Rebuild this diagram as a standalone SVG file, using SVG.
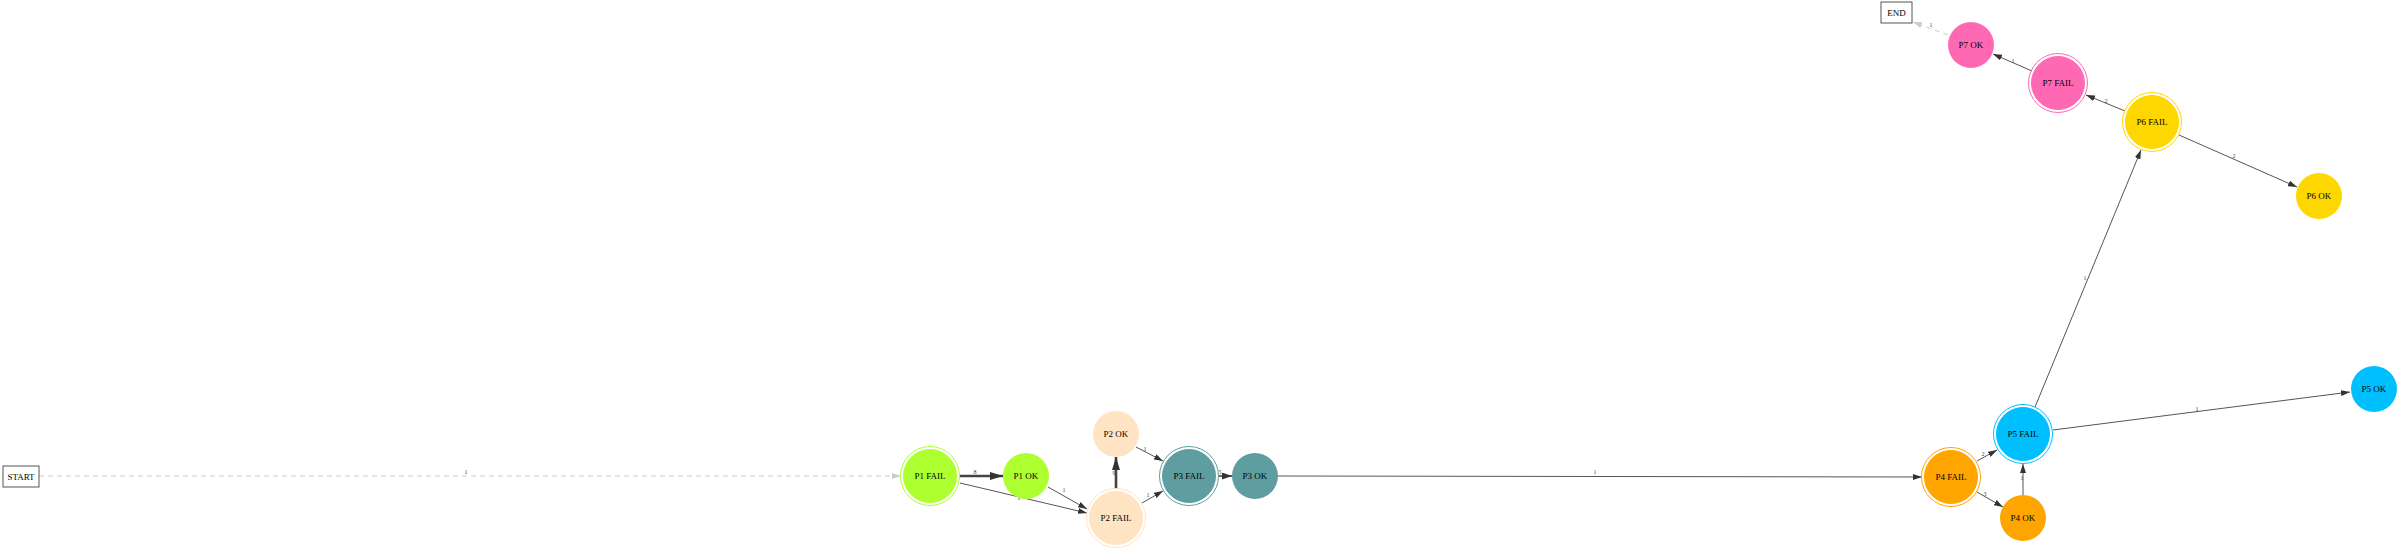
<svg xmlns="http://www.w3.org/2000/svg" width="2400" height="551" viewBox="0 0 2400 551">
<style>
.lbl{font-family:"Liberation Serif","Times New Roman",serif;font-size:9px;fill:#000;text-anchor:middle;dominant-baseline:central}
.el{font-family:"Liberation Serif","Times New Roman",serif;font-size:6px;fill:#444;text-anchor:middle}
.e{stroke:#555;stroke-width:1;fill:none;marker-end:url(#arr)}
.ek{stroke:#444;stroke-width:2.6;fill:none;marker-end:url(#arrk)}
.em{stroke:#444;stroke-width:1.6;fill:none;marker-end:url(#arrm)}
.ed{stroke:#ccc;stroke-width:1;fill:none;stroke-dasharray:5,4;marker-end:url(#arrd)}
.box{fill:#fff;stroke:#555;stroke-width:1}
</style>
<defs>
<marker id="arr" markerUnits="userSpaceOnUse" markerWidth="9" markerHeight="6" refX="9" refY="3" orient="auto"><path d="M0,0 L9,3 L0,6 z" fill="#333"/></marker>
<marker id="arrk" markerUnits="userSpaceOnUse" markerWidth="13" markerHeight="8" refX="13" refY="4" orient="auto"><path d="M0,0 L13,4 L0,8 z" fill="#333"/></marker>
<marker id="arrm" markerUnits="userSpaceOnUse" markerWidth="10" markerHeight="7" refX="10" refY="3.5" orient="auto"><path d="M0,0 L10,3.5 L0,7 z" fill="#333"/></marker>
<marker id="arrd" markerUnits="userSpaceOnUse" markerWidth="9" markerHeight="6" refX="9" refY="3" orient="auto"><path d="M0,0 L9,3 L0,6 z" fill="#ccc"/></marker>
</defs>
<rect width="2400" height="551" fill="#fff"/>
<g id="connectors">
<line class="ed" x1="39" y1="476" x2="901" y2="476"/><text class="el" x="466" y="474">1</text>
<line class="ek" x1="959" y1="476" x2="1003" y2="476"/><text class="el" x="975" y="474">8</text>
<line class="e" x1="960" y1="483" x2="1087" y2="513"/><text class="el" x="1019" y="500">1</text>
<line class="e" x1="1048" y1="487" x2="1087" y2="509"/><text class="el" x="1064" y="492">1</text>
<line class="ek" x1="1116" y1="489" x2="1116" y2="457"/><text class="el" x="1114" y="475">9</text>
<line class="e" x1="1136" y1="447" x2="1163" y2="461"/><text class="el" x="1145" y="451">1</text>
<line class="e" x1="1142" y1="503" x2="1163" y2="491"/><text class="el" x="1148" y="497">1</text>
<line class="em" x1="1218" y1="476" x2="1232" y2="476"/><text class="el" x="1220" y="474">5</text>
<line class="e" x1="1278" y1="476" x2="1922" y2="477"/><text class="el" x="1595" y="474">1</text>
<line class="e" x1="1977" y1="461" x2="1997" y2="450"/><text class="el" x="1983" y="456">2</text>
<line class="e" x1="1977" y1="492" x2="2003" y2="507"/><text class="el" x="1985" y="496">3</text>
<line class="e" x1="2023" y1="495" x2="2023" y2="464"/><text class="el" x="2022" y="480">1</text>
<line class="e" x1="2053" y1="430" x2="2350" y2="392"/><text class="el" x="2197" y="411">1</text>
<line class="e" x1="2035" y1="407" x2="2141" y2="150"/><text class="el" x="2085" y="280">1</text>
<line class="e" x1="2179" y1="135" x2="2297" y2="187"/><text class="el" x="2234" y="158">2</text>
<line class="e" x1="2125" y1="111" x2="2086" y2="95"/><text class="el" x="2106" y="103">2</text>
<line class="e" x1="2032" y1="71" x2="1993" y2="54"/><text class="el" x="2013" y="63">1</text>
<line class="ed" x1="1948" y1="35" x2="1913" y2="22"/><text class="el" x="1931" y="27">1</text>
</g>
<g id="START"><rect class="box" x="3" y="466" width="36" height="21"/><text class="lbl" x="21" y="476.5">START</text></g>
<g id="END"><rect class="box" x="1881" y="2" width="31" height="21"/><text class="lbl" x="1896.5" y="12.5">END</text></g>
<g id="P1_FAIL"><circle cx="930" cy="476" r="29.5" fill="none" stroke="#ADFF2F"/><circle cx="930" cy="476" r="26.5" fill="#ADFF2F" stroke="#ADFF2F"/><text class="lbl" x="930" y="476">P1 FAIL</text></g>
<g id="P1_OK"><circle cx="1026" cy="476" r="23" fill="#ADFF2F"/><text class="lbl" x="1026" y="476">P1 OK</text></g>
<g id="P2_OK"><circle cx="1116" cy="434" r="23" fill="#FFE4C4"/><text class="lbl" x="1116" y="434">P2 OK</text></g>
<g id="P2_FAIL"><circle cx="1116" cy="518" r="29.5" fill="none" stroke="#FFE4C4"/><circle cx="1116" cy="518" r="26.5" fill="#FFE4C4" stroke="#FFE4C4"/><text class="lbl" x="1116" y="518">P2 FAIL</text></g>
<g id="P3_FAIL"><circle cx="1189" cy="476" r="29.5" fill="none" stroke="#5F9EA0"/><circle cx="1189" cy="476" r="26.5" fill="#5F9EA0" stroke="#5F9EA0"/><text class="lbl" x="1189" y="476">P3 FAIL</text></g>
<g id="P3_OK"><circle cx="1255" cy="476" r="23" fill="#5F9EA0"/><text class="lbl" x="1255" y="476">P3 OK</text></g>
<g id="P4_FAIL"><circle cx="1951" cy="477" r="29.5" fill="none" stroke="#FFA500"/><circle cx="1951" cy="477" r="26.5" fill="#FFA500" stroke="#FFA500"/><text class="lbl" x="1951" y="477">P4 FAIL</text></g>
<g id="P4_OK"><circle cx="2023" cy="518" r="23" fill="#FFA500"/><text class="lbl" x="2023" y="518">P4 OK</text></g>
<g id="P5_FAIL"><circle cx="2023" cy="434" r="29.5" fill="none" stroke="#00BFFF"/><circle cx="2023" cy="434" r="26.5" fill="#00BFFF" stroke="#00BFFF"/><text class="lbl" x="2023" y="434">P5 FAIL</text></g>
<g id="P5_OK"><circle cx="2374" cy="389" r="23" fill="#00BFFF"/><text class="lbl" x="2374" y="389">P5 OK</text></g>
<g id="P6_FAIL"><circle cx="2152" cy="122" r="29.5" fill="none" stroke="#FFD700"/><circle cx="2152" cy="122" r="26.5" fill="#FFD700" stroke="#FFD700"/><text class="lbl" x="2152" y="122">P6 FAIL</text></g>
<g id="P6_OK"><circle cx="2319" cy="196" r="23" fill="#FFD700"/><text class="lbl" x="2319" y="196">P6 OK</text></g>
<g id="P7_FAIL"><circle cx="2058" cy="83" r="29.5" fill="none" stroke="#FF69B4"/><circle cx="2058" cy="83" r="26.5" fill="#FF69B4" stroke="#FF69B4"/><text class="lbl" x="2058" y="83">P7 FAIL</text></g>
<g id="P7_OK"><circle cx="1971" cy="45" r="23" fill="#FF69B4"/><text class="lbl" x="1971" y="45">P7 OK</text></g>
</svg>
